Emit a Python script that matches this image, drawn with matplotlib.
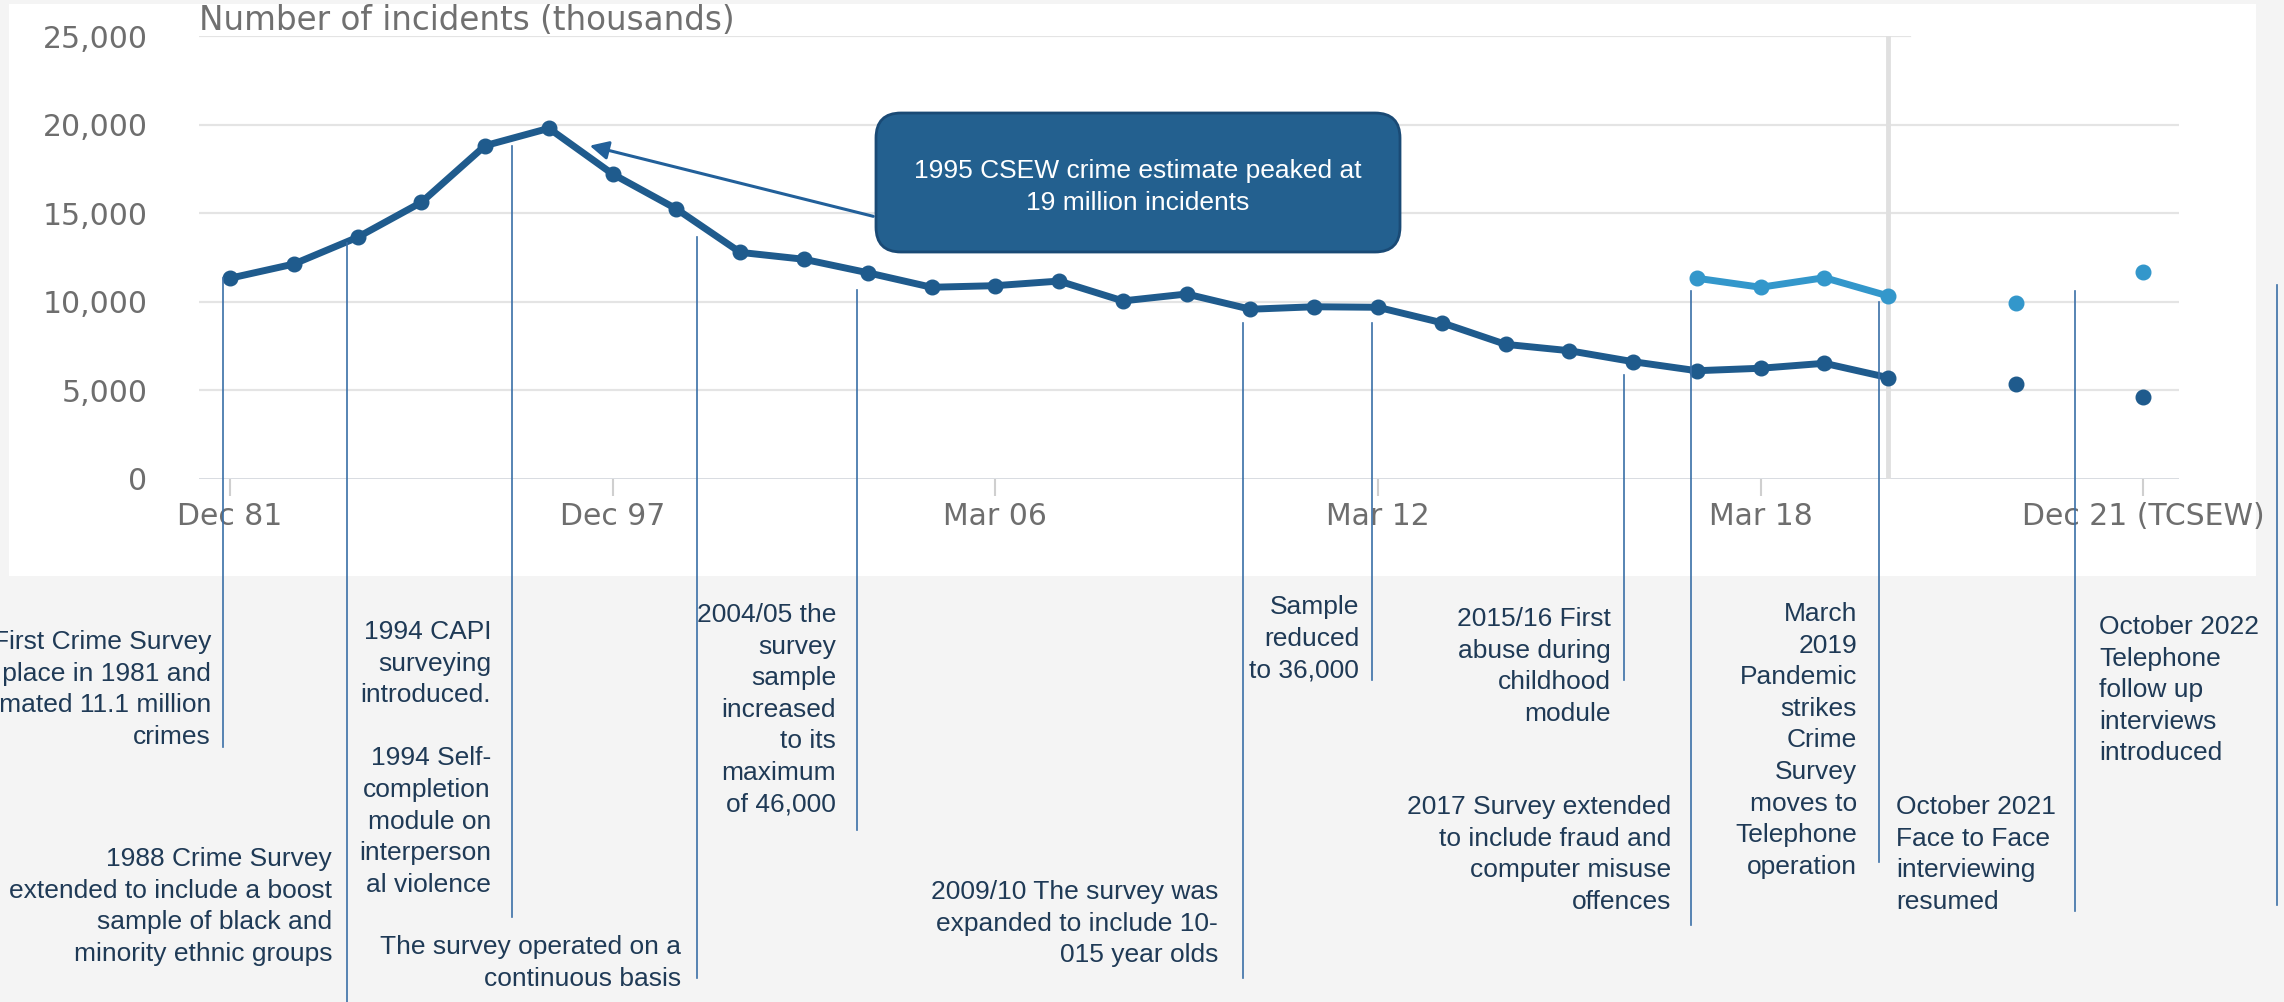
import matplotlib
matplotlib.use("Agg")
import matplotlib.pyplot as plt
from matplotlib.patches import Rectangle, FancyBboxPatch, FancyArrowPatch
from matplotlib.lines import Line2D
import numpy as np

# survey periods (categorical x axis)
periods = ["Dec 81", "Dec 83", "Dec 87", "Dec 91", "Dec 93", "Dec 95", "Dec 97", "Dec 99",
           "Mar 02", "Mar 03", "Mar 04", "Mar 05", "Mar 06", "Mar 07", "Mar 08", "Mar 09",
           "Mar 10", "Mar 11", "Mar 12", "Mar 13", "Mar 14", "Mar 15", "Mar 16", "Mar 17",
           "Mar 18", "Mar 19", "Mar 20", "Sep 20", "Mar 21 (TCSEW)", "Sep 21", "Dec 21 (TCSEW)"]
shown_ticks = ["Dec 81", "Dec 97", "Mar 06", "Mar 12", "Mar 18", "Dec 21 (TCSEW)"]

# CSEW incidents (thousands), headline series
csew = [11330, 12130, 13640, 15610, 18810, 19790, 17210, 15240, 12790, 12400,
        11640, 10820, 10910, 11170, 10050, 10440, 9580, 9720, 9690, 8820,
        7600, 7240, 6620, 6110, 6250, 6530, 5720, None, 5360, None, 4650]
# including fraud and computer misuse
csew_fraud = [None] * 23 + [11330, 10820, 11360, 10330, None, 9950, None, 11660]

yticks = [0, 5000, 10000, 15000, 20000, 25000]

notes = [
    "First Crime Survey\ntook place in 1981 and\nestimated 11.1 million\ncrimes",
    "1988 Crime Survey\nextended to include a boost\nsample of black and\nminority ethnic groups",
    "1994 CAPI\nsurveying\nintroduced.\n\n1994 Self-\ncompletion\nmodule on\ninterperson\nal violence",
    "The survey operated on a\ncontinuous basis",
    "2004/05 the\nsurvey\nsample\nincreased\nto its\nmaximum\nof 46,000",
    "2009/10 The survey was\nexpanded to include 10-\n015 year olds",
    "Sample\nreduced\nto 36,000",
    "2015/16 First\nabuse during\nchildhood\nmodule",
    "2017 Survey extended\nto include fraud and\ncomputer misuse\noffences",
    "March\n2019\nPandemic\nstrikes\nCrime\nSurvey\nmoves to\nTelephone\noperation",
    "October 2021\nFace to Face\ninterviewing\nresumed",
    "October 2022\nTelephone\nfollow up\ninterviews\nintroduced",
]
callout = "1995 CSEW crime estimate peaked at\n19 million incidents"

# layout of the notes in image pixels: leader x, leader top, leader bottom, text x, text top, align
note_layout = [
    (223, 278, 747, 211, 630, "right"),
    (347, 243, 1002, 332, 847, "right"),
    (512, 146, 917, 491, 620, "right"),
    (697, 237, 978, 681, 935, "right"),
    (857, 290, 830, 836, 603, "right"),
    (1243, 323, 978, 1218, 880, "right"),
    (1372, 323, 680, 1359, 595, "right"),
    (1624, 375, 680, 1611, 607, "right"),
    (1691, 291, 925, 1671, 795, "right"),
    (1879, 302, 862, 1857, 602, "right"),
    (2075, 291, 911, 1896, 795, "left"),
    (2277, 285, 905, 2099, 615, "left"),
]

W, H = 2284, 1002
dark = "#1f5b8d"
light = "#3397cb"
navy = "#1f3a56"
axis_grey = "#6e6e6e"

fig = plt.figure(figsize=(W / 100, H / 100), dpi=100, facecolor="#f4f4f4")
P = fig.dpi_scale_trans


def pt(x, y):
    return x / 100, (H - y) / 100


# white chart panel
x0, y0 = pt(9, 576)
x1, y1 = pt(2256, 4)
fig.add_artist(Rectangle((x0, y0), x1 - x0, y1 - y0, transform=P,
                         facecolor="white", edgecolor="none", zorder=-1))

ax = fig.add_axes([199 / W, 1 - 479 / H, (2179 - 199) / W, (479 - 36) / H])
ax.set_facecolor("none")
ax.set_xlim(-0.486, 30.56)
ax.set_ylim(0, 25000)
for s in ax.spines.values():
    s.set_visible(False)

for v in yticks[1:-1]:
    ax.axhline(v, color="#e4e4e4", lw=1.6, zorder=0)
ax.axhline(yticks[-1], xmax=0.864, color="#e4e4e4", lw=1.6, zorder=0)
ax.axhline(0, color="#d5d8de", lw=2, zorder=0)
ax.axvline(periods.index("Mar 20"), color="#e0e0e0", lw=3.5, zorder=1)

x = np.arange(len(periods))
y_main = np.array([np.nan if v is None else v for v in csew], dtype=float)
y_fraud = np.array([np.nan if v is None else v for v in csew_fraud], dtype=float)
ax.plot(x, y_main, color=dark, lw=5, marker="o", ms=10.5, zorder=3,
        solid_joinstyle="round", solid_capstyle="round")
ax.plot(x, y_fraud, color=light, lw=5, marker="o", ms=10.5, zorder=3,
        solid_joinstyle="round", solid_capstyle="round")

ax.set_yticks(yticks)
ax.set_yticklabels([f"{v:,}" for v in yticks])
ax.set_xticks([periods.index(p) for p in shown_ticks])
ax.set_xticklabels(shown_ticks)
ax.tick_params(axis="y", length=0, pad=37, labelsize=21.5, labelcolor=axis_grey)
ax.tick_params(axis="x", length=12, width=1.5, color="#cfcfcf", pad=4.5,
               labelsize=21.5, labelcolor=axis_grey)

fig.text(*pt(199, 30), "Number of incidents (thousands)", transform=P,
         ha="left", va="baseline", fontsize=23.5, color="#707070")

# callout box with arrow to the peak
bx, by = pt(876, 252)
fig.add_artist(FancyBboxPatch((bx, by), (1400 - 876) / 100, (252 - 113) / 100,
                              boxstyle="round,pad=0,rounding_size=0.25", transform=P,
                              facecolor="#23608f", edgecolor="#1a4a75", lw=2, zorder=5))
fig.text(*pt(1138, 187), callout, transform=P, ha="center", va="center",
         fontsize=19, color="white", family="Liberation Sans", linespacing=1.4, zorder=6)
fig.add_artist(FancyArrowPatch(pt(876, 217), pt(587, 145), transform=P,
                               arrowstyle="-|>", mutation_scale=28, color="#22609a",
                               lw=2.2, zorder=5))

for txt, (lx, ltop, lbot, tx, ty, ha) in zip(notes, note_layout):
    fig.add_artist(Line2D([lx / 100, lx / 100], [(H - ltop) / 100, (H - lbot) / 100],
                          transform=P, color="#3a6fa7", lw=1.2, zorder=4))
    fig.text(*pt(tx, ty), txt, transform=P, ha=ha, va="top", multialignment=ha,
             fontsize=19, color=navy, family="Liberation Sans", linespacing=1.4)

fig.savefig("out.png", dpi=100, facecolor=fig.get_facecolor())
